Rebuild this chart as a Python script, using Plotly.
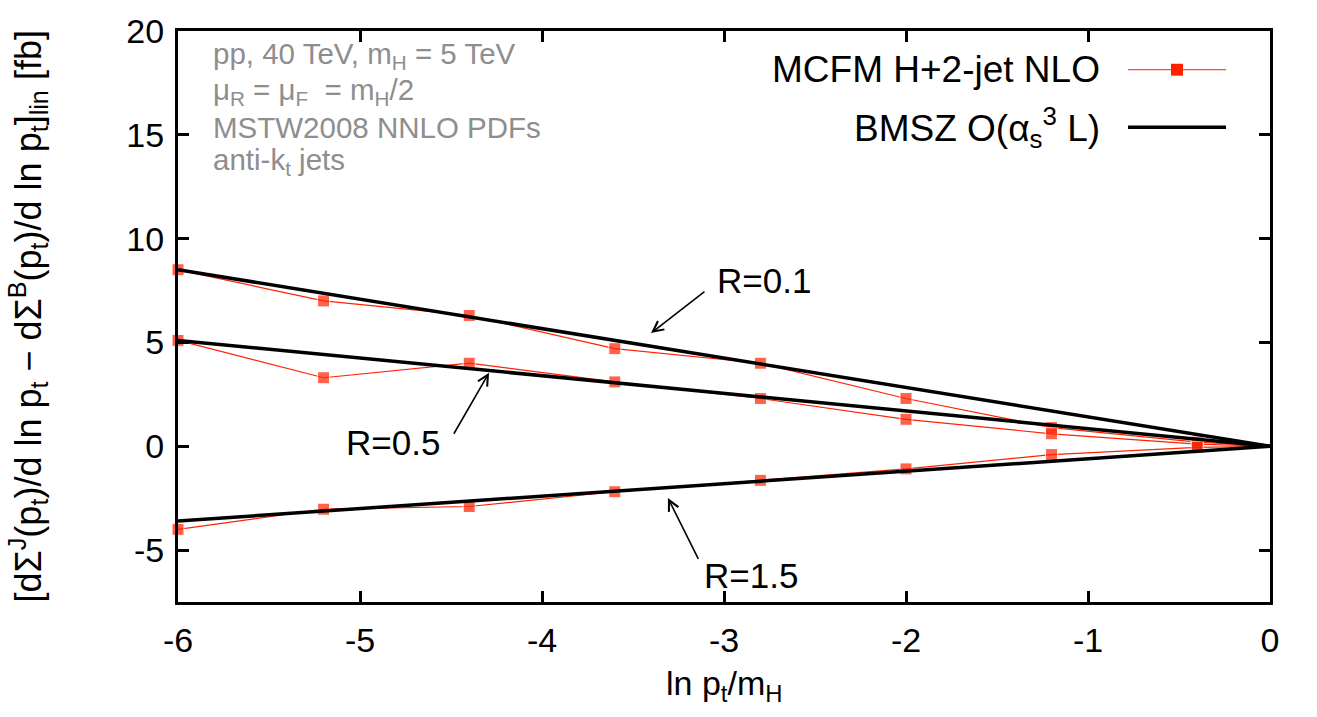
import plotly.graph_objects as go

# ---------------- data ----------------
x_mcfm = [-6.0, -5.2, -4.4, -3.6, -2.8, -2.0, -1.2, -0.4, 0.0]
mcfm_R01 = [8.5, 7.0, 6.3, 4.7, 4.0, 2.3, 0.9, 0.2, 0.0]
mcfm_R05 = [5.1, 3.3, 4.0, 3.1, 2.3, 1.3, 0.6, 0.1, 0.0]
mcfm_R15 = [-4.0, -3.03, -2.9, -2.19, -1.64, -1.09, -0.4, -0.05, 0.0]

x_bmsz = [-6.0, 0.0]
bmsz_R01 = [8.5, 0.0]
bmsz_R05 = [5.1, 0.0]
bmsz_R15 = [-3.6, 0.0]

x_ticks = [-6, -5, -4, -3, -2, -1, 0]
x_tick_labels = ["-6", "-5", "-4", "-3", "-2", "-1", "0"]
y_ticks = [-5, 0, 5, 10, 15, 20]
y_tick_labels = ["-5", "0", "5", "10", "15", "20"]

RED = "#ff2200"
FONT = "Liberation Sans, Arial, Helvetica, sans-serif"

fig = go.Figure()

marker_sizes = [12] * (len(x_mcfm) - 1) + [0]
for ys in (mcfm_R01, mcfm_R05, mcfm_R15):
    fig.add_trace(go.Scatter(x=x_mcfm, y=ys, mode="lines+markers",
                             line=dict(color=RED, width=1.2),
                             marker=dict(symbol="square", size=marker_sizes, color=RED),
                             showlegend=False, cliponaxis=False))
for ys in (bmsz_R01, bmsz_R05, bmsz_R15):
    fig.add_trace(go.Scatter(x=x_bmsz, y=ys, mode="lines",
                             line=dict(color="black", width=3.5),
                             showlegend=False))

# ---------------- layout ----------------
L, R, T, B = 178, 47, 27, 115
W, H = 1317, 717
pw, ph = W - L - R, H - T - B

def px2paper(px, py):
    return (px - L) / pw, 1 - (py - T) / ph

axis_common = dict(showline=True, linecolor="black", linewidth=3, mirror="ticks",
                   ticks="inside", ticklen=11, tickwidth=2.5, tickcolor="black",
                   showgrid=False, zeroline=False,
                   tickfont=dict(family=FONT, size=34, color="black"))

fig.update_layout(
    width=W, height=H,
    margin=dict(l=L, r=R, t=T, b=B),
    paper_bgcolor="white", plot_bgcolor="white",
    showlegend=False,
    font=dict(family=FONT, color="black"),
    xaxis=dict(range=[-6, 0], tickvals=x_ticks, ticktext=x_tick_labels,
               ticklabelstandoff=6, **axis_common),
    yaxis=dict(range=[-7.5, 20], tickvals=y_ticks, ticktext=y_tick_labels,
               ticklabelstandoff=4, **axis_common),
)

# axis titles
fig.add_annotation(text="ln p<sub>t</sub>/m<sub>H</sub>", xref="paper", yref="paper",
                   x=0.5, y=0, yshift=-83, yanchor="middle", showarrow=False,
                   font=dict(size=34, family=FONT))
fig.add_annotation(text="[dΣ<sup>J</sup>(p<sub>t</sub>)/d ln p<sub>t</sub> − dΣ<sup>B</sup>(p<sub>t</sub>)/d ln p<sub>t</sub>]<sub>lin</sub> [fb]",
                   xref="paper", yref="paper", x=0, xshift=-150, y=0.5,
                   textangle=-90, showarrow=False, xanchor="center", yanchor="middle",
                   font=dict(size=36, family=FONT))

# info text (grey)
info_lines = ["pp, 40 TeV, m<sub>H</sub> = 5 TeV",
              "μ<sub>R</sub> = μ<sub>F</sub>  = m<sub>H</sub>/2",
              "MSTW2008 NNLO PDFs",
              "anti-k<sub>t</sub> jets"]
info_y = [52, 88, 124, 158]
for txt, py in zip(info_lines, info_y):
    xp, yp = px2paper(211, py)
    fig.add_annotation(text=txt, xref="paper", yref="paper", x=xp, y=yp,
                       xanchor="left", yanchor="middle", showarrow=False,
                       font=dict(size=29.5, color="#8e8e8e", family=FONT))

# legend (manual, symbol on the right like gnuplot)
leg_rows = [("MCFM H+2-jet NLO", 66), ("BMSZ O(α<sub>s</sub><sup>3</sup> L)", 124)]
for txt, py in leg_rows:
    xp, yp = px2paper(1102, py)
    fig.add_annotation(text=txt, xref="paper", yref="paper", x=xp, y=yp,
                       xanchor="right", yanchor="middle", showarrow=False,
                       font=dict(size=37, family=FONT))
x0p, y0p = px2paper(1128, 66)
x1p, _ = px2paper(1226, 66)
fig.add_shape(type="line", xref="paper", yref="paper", x0=x0p, x1=x1p, y0=y0p, y1=y0p,
              line=dict(color=RED, width=1.2))
mxp, _ = px2paper(1177, 66)
hx, hy = 6 / pw, 6 / ph
fig.add_shape(type="rect", xref="paper", yref="paper", x0=mxp - hx, x1=mxp + hx,
              y0=y0p - hy, y1=y0p + hy, fillcolor=RED, line=dict(width=0))
x0p, y1p = px2paper(1128, 124)
fig.add_shape(type="line", xref="paper", yref="paper", x0=x0p, x1=x1p, y0=y1p, y1=y1p,
              line=dict(color="black", width=3.5))

# R labels with arrows
labels = [
    ("R=0.1", (-2.78, 7.99), (-3.099, 7.51), (-3.401, 5.45)),
    ("R=0.5", (-4.82, 0.19), (-4.489, 0.53), (-4.291, 3.54)),
    ("R=1.5", (-2.85, -6.22), (-3.137, -5.50), (-3.308, -2.49)),
]
for txt, (tx, ty), (ax_, ay_), (hx_, hy_) in labels:
    fig.add_annotation(text=txt, x=tx, y=ty, xref="x", yref="y", showarrow=False,
                       xanchor="center", yanchor="middle", font=dict(size=35, family=FONT))
    fig.add_annotation(text="", x=hx_, y=hy_, ax=ax_, ay=ay_, xref="x", yref="y",
                       axref="x", ayref="y", showarrow=True, arrowhead=5,
                       arrowsize=1.3, arrowwidth=1.6, arrowcolor="black", standoff=0)

fig.write_html("out.html")
